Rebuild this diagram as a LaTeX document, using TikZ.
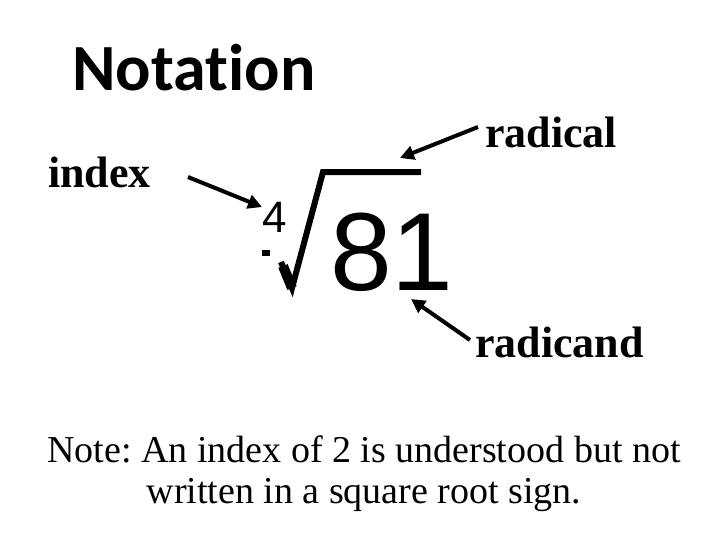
\documentclass[tikz,border=0pt]{standalone}
\usepackage{fontspec}
\setmainfont{Liberation Serif}
\newfontfamily\calib[Ligatures=NoCommon]{Carlito}
\newfontfamily\arial{Liberation Sans}
\usetikzlibrary{arrows.meta}
\begin{document}
\begin{tikzpicture}[x=1pt,y=-1pt,
  lbl/.style={font=\fontsize{44}{46}\selectfont\bfseries,inner sep=0},
  arr/.style={line width=4pt,-{Triangle[length=14pt,width=14pt]}}]
\useasboundingbox (0,0) rectangle (728,546);
\node[font=\calib\fontsize{66}{70}\selectfont\bfseries,anchor=base west,inner sep=0] (title) at (72,90) {Notation};
\node[lbl,anchor=base west] (radical) at (485,147) {radical};
\node[lbl,anchor=base west] (index) at (48,187) {index};
\node[lbl,anchor=base west] (radicand) at (475,357) {radicand};
\node[font=\arial\fontsize{44}{48}\selectfont,anchor=base west,inner sep=0] (four) at (262,232) {4};
\node[font=\arial\fontsize{111}{115}\selectfont,anchor=base west,inner sep=0] (num) at (330,290) {81};
\fill (262,250) rectangle (270,256);
\draw[line width=6pt,line join=miter] (281,262) -- (292,288) -- (323,172) -- (421,172);
\draw[line width=10pt] (283,266) -- (292,288);
\coordinate (ia) at (188,177); \coordinate (ib) at (262,207);
\coordinate (ra) at (478,127); \coordinate (rb) at (400,158);
\coordinate (da) at (470,340); \coordinate (db) at (411,299);
\draw[arr] (ia) -- (ib);
\draw[arr] (ra) -- (rb);
\draw[arr] (da) -- (db);
\node[font=\fontsize{38}{41}\selectfont\frenchspacing,align=center] (note) at (364,474) {Note: An index of 2 is understood but not\\written in a square root sign.};
\end{tikzpicture}
\end{document}
